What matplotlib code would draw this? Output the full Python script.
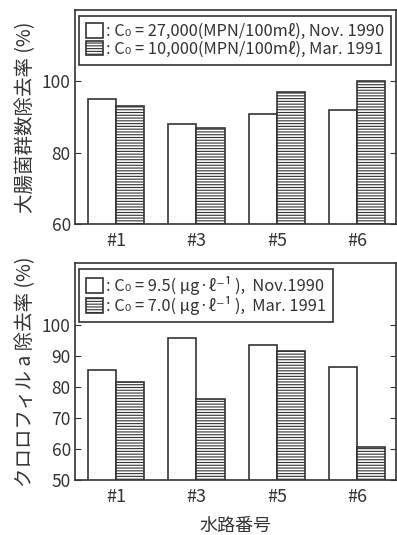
import matplotlib
matplotlib.use("Agg")
import matplotlib.pyplot as plt
from matplotlib.patches import Patch
import numpy as np

plt.rcParams['font.family'] = ['Noto Sans CJK JP', 'DejaVu Sans']
plt.rcParams['hatch.linewidth'] = 0.8

channels = ['#1', '#3', '#5', '#6']
coli_nov = [95, 88, 91, 92]
coli_mar = [93, 87, 97, 100]
chl_nov = [85.5, 96, 93.5, 86.5]
chl_mar = [81.5, 76, 91.5, 60.5]

coli_labels = [': C₀ = 27,000(MPN/100mℓ), Nov. 1990',
               ': C₀ = 10,000(MPN/100mℓ), Mar. 1991']
chl_labels = [': C₀ = 9.5( μg·ℓ⁻¹ ),  Nov.1990',
              ': C₀ = 7.0( μg·ℓ⁻¹ ),  Mar. 1991']

fig = plt.figure(figsize=(3.97, 5.35), dpi=100)
ax1 = fig.add_axes([0.189, 0.581, 0.808, 0.400])
ax2 = fig.add_axes([0.189, 0.103, 0.808, 0.405])

x = np.arange(len(channels))
w = 0.35
ink = '#333333'

def draw(ax, a, b, ylim, yticks, ylabel, labels):
    ax.bar(x - w / 2, a, w, color='white', edgecolor=ink, linewidth=1.2)
    ax.bar(x + w / 2, b, w, color='white', edgecolor=ink, linewidth=1.2,
           hatch='------')
    ax.set_xlim(-0.51, 3.48)
    ax.set_ylim(*ylim)
    ax.set_yticks(yticks)
    ax.set_xticks(x)
    ax.set_xticklabels(channels, fontsize=13, color=ink)
    ax.tick_params(axis='x', length=0, pad=6)
    ax.tick_params(axis='y', direction='in', right=True, length=4,
                   labelsize=12.5, labelcolor=ink, color=ink, pad=3)
    for s in ax.spines.values():
        s.set_color(ink)
        s.set_linewidth(1.2)
    ax.set_ylabel(ylabel, fontsize=14, color=ink, labelpad=4)
    handles = [Patch(facecolor='white', edgecolor=ink, linewidth=1.2),
               Patch(facecolor='white', edgecolor=ink, linewidth=1.2, hatch='------')]
    leg = ax.legend(handles, labels, loc='upper left', bbox_to_anchor=(0.012, 0.975),
                    borderaxespad=0, fontsize=11.8, frameon=True, fancybox=False,
                    edgecolor=ink, framealpha=1, handlelength=1.0, handleheight=1.0,
                    handletextpad=0.2, labelspacing=0.05, borderpad=0.45,
                    labelcolor=ink)
    leg.get_frame().set_linewidth(1.2)

draw(ax1, coli_nov, coli_mar, (60, 120), [60, 80, 100], '大腸菌群数除去率 (%)', coli_labels)
draw(ax2, chl_nov, chl_mar, (50, 120), [50, 60, 70, 80, 90, 100], 'クロロフィル a 除去率 (%)', chl_labels)
ax2.set_xlabel('水路番号', fontsize=13, color=ink, labelpad=8)

fig.savefig('out.png', dpi=100)
